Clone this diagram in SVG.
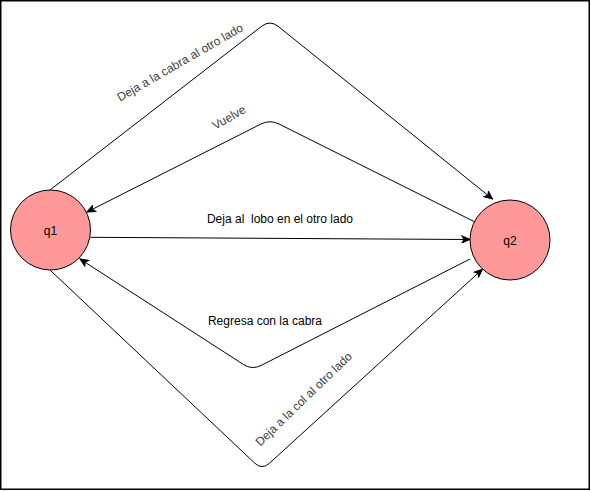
<svg xmlns="http://www.w3.org/2000/svg" width="591" height="491" viewBox="0 0 591 491">
  <style>
    .frame { fill: #ffffff; stroke: #000000; stroke-width: 1.5; }
    .state { fill: #ff9999; stroke: #000000; stroke-width: 1; }
    .state-label { font-family: "Liberation Sans", Arial, sans-serif; font-size: 12px; fill: #000000; text-anchor: middle; }
    .edge { fill: none; stroke: #000000; stroke-width: 1; marker-end: url(#arrow); }
    .edge-label { font-family: "Liberation Sans", Arial, sans-serif; font-size: 12px; fill: #000000; text-anchor: middle; }
    .edge-label.rot { fill: #404040; }
  </style>
  <defs>
    <marker id="arrow" markerUnits="userSpaceOnUse" markerWidth="10" markerHeight="8" refX="9" refY="4" orient="auto" viewBox="0 0 10 8">
      <path d="M9,4 L1,0.5 L3,4 L1,7.5 Z" fill="#000000" stroke="#000000" stroke-width="1" stroke-linejoin="miter"/>
    </marker>
  </defs>

  <rect class="frame" x="0.75" y="0.75" width="588.5" height="488.5"/>

  <g id="connectors">
    <g id="e-cabra">
      <path class="edge" d="M50,190 L262,26 Q270,20 278,26.2 L492.5,199"/>
      <text class="edge-label rot" x="182" y="66" transform="rotate(-30 182 66)">Deja a la cabra al otro lado</text>
    </g>
    <g id="e-vuelve">
      <path class="edge" d="M475,222 L279,124 Q270,119.5 261,124 L87,212"/>
      <text class="edge-label rot" x="231" y="121" transform="rotate(-30 231 121)">Vuelve</text>
    </g>
    <g id="e-lobo">
      <path class="edge" d="M90.5,237.3 L470,239.5"/>
      <text class="edge-label" x="280" y="223" xml:space="preserve">Deja al  lobo en el otro lado</text>
    </g>
    <g id="e-regresa">
      <path class="edge" d="M470,259 L261,365.5 Q252,370 243.6,364.6 L80,259"/>
      <text class="edge-label" x="265" y="325">Regresa con la cabra</text>
    </g>
    <g id="e-col">
      <path class="edge" d="M50,270 L254.7,463.1 Q262,470 269.4,463.3 L482.3,269.3"/>
      <text class="edge-label rot" x="306.5" y="402" transform="rotate(-44 306.5 402)">Deja a la col al otro lado</text>
    </g>
  </g>

  <g id="q1">
    <circle class="state" cx="50.5" cy="230" r="40"/>
    <text class="state-label" x="50.5" y="234.5">q1</text>
  </g>
  <g id="q2">
    <circle class="state" cx="510" cy="240" r="40"/>
    <text class="state-label" x="510" y="244.5">q2</text>
  </g>
</svg>
